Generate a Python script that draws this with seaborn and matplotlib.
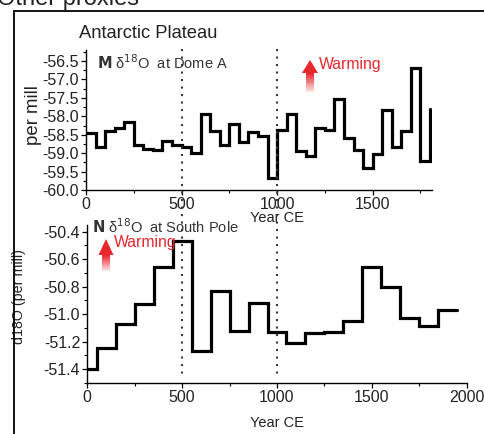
import numpy as np
import pandas as pd
import matplotlib
matplotlib.use("Agg")
import matplotlib.pyplot as plt
import seaborn as sns
from matplotlib.lines import Line2D
from matplotlib.patches import Polygon, Rectangle
from matplotlib.ticker import MultipleLocator

# ---------------- data ----------------
dome_years = list(range(0, 1801, 50))  # step edges (steps-post)
dome_values = [-58.46, -58.84, -58.39, -58.32, -58.16, -58.77, -58.88, -58.91,
               -58.66, -58.78, -58.84, -58.99, -57.95, -58.39, -58.77, -58.20,
               -58.70, -58.43, -58.53, -59.67, -58.38, -57.95, -58.93, -59.08,
               -58.31, -58.38, -57.52, -58.59, -58.91, -59.41, -59.02, -57.84,
               -58.82, -58.41, -56.70, -59.20, -57.81]

pole_years = [0] + list(range(50, 1851, 100)) + [1950]
pole_values = [-51.40, -51.245, -51.07, -50.93, -50.66, -50.47, -51.27, -50.83,
               -51.12, -50.92, -51.13, -51.21, -51.14, -51.13, -51.05, -50.66,
               -50.80, -51.03, -51.09, -50.97]
pole_values_plot = pole_values + [pole_values[-1]]

dome_yticks = [-60.0, -59.5, -59.0, -58.5, -58.0, -57.5, -57.0, -56.5]
pole_yticks = [-51.4, -51.2, -51.0, -50.8, -50.6, -50.4]

df_dome = pd.DataFrame({"year": dome_years, "d18O": dome_values})
df_pole = pd.DataFrame({"year": pole_years, "d18O": pole_values_plot})

# ---------------- style ----------------
sns.set_theme(style="ticks")
plt.rcParams["font.family"] = ["Liberation Sans", "DejaVu Sans"]
plt.rcParams["axes.unicode_minus"] = False

W, H = 484, 434
fig = plt.figure(figsize=(W / 100, H / 100), dpi=100)


def fx(x):
    return x / W


def fy(y):
    return 1 - y / H


RED = "#e8262d"
TXT = "#222222"

ax1 = fig.add_axes([fx(86), fy(190), (431.5 - 86) / W, (190 - 50) / H])
ax2 = fig.add_axes([fx(87.3), fy(382.7), 379.4 / W, (382.7 - 224.8) / H])

sns.lineplot(data=df_dome, x="year", y="d18O", ax=ax1, color="black",
             linewidth=2.3, drawstyle="steps-post", estimator=None,
             solid_joinstyle="miter")
sns.lineplot(data=df_pole, x="year", y="d18O", ax=ax2, color="black",
             linewidth=2.3, drawstyle="steps-post", estimator=None,
             solid_joinstyle="miter")

ax1.set_xlim(0, 1808)
ax1.set_ylim(-60.0, -56.2)
ax1.set_xticks([0, 500, 1000, 1500])
ax1.xaxis.set_minor_locator(MultipleLocator(250))
ax1.set_yticks(dome_yticks)
ax1.set_yticklabels([f"{v:.1f}" for v in dome_yticks])
ax1.yaxis.set_minor_locator(MultipleLocator(0.25))

ax2.set_xlim(0, 2000)
ax2.set_ylim(-51.5, -50.35)
ax2.set_xticks([0, 500, 1000, 1500, 2000])
ax2.xaxis.set_minor_locator(MultipleLocator(250))
ax2.set_yticks(pole_yticks)
ax2.set_yticklabels([f"{v:.1f}" for v in pole_yticks])
ax2.yaxis.set_minor_locator(MultipleLocator(0.1))

for ax in (ax1, ax2):
    sns.despine(ax=ax)
    ax.set_facecolor("none")
    for s in ("left", "bottom"):
        ax.spines[s].set_linewidth(1.0)
        ax.spines[s].set_color("black")
    ax.tick_params(which="major", direction="out", length=3.6, width=0.9,
                   labelsize=11.5, pad=1.5, colors="black", labelcolor=TXT)
    ax.tick_params(which="minor", direction="out", length=2.2, width=0.8,
                   colors="black")

# axis labels
ax1.set_xlabel("Year CE", fontsize=10.5, color=TXT)
ax1.xaxis.set_label_coords((277 - 86) / 345.5, (190 - 218) / 140)
ax1.xaxis.label.set_verticalalignment("center")
ax1.set_ylabel("per mill", fontsize=13.4, color=TXT)
ax1.yaxis.set_label_coords((34 - 86) / 345.5, (190 - 115) / 140)
ax1.yaxis.label.set_verticalalignment("center")

ax2.set_xlabel("Year CE", fontsize=10.5, color=TXT)
ax2.xaxis.set_label_coords((277 - 87.3) / 379.4, (382.7 - 423) / 157.9)
ax2.xaxis.label.set_verticalalignment("center")
ax2.set_ylabel("d18O (per mill)", fontsize=10.3, color=TXT)
ax2.yaxis.set_label_coords((19 - 87.3) / 379.4, (382.7 - 297) / 157.9)
ax2.yaxis.label.set_verticalalignment("center")

# dotted reference lines spanning both panels
for xp in (181.5, 277):
    fig.add_artist(Line2D([fx(xp), fx(xp)], [fy(49), fy(377)],
                          transform=fig.transFigure, color="#3a3a3a",
                          linewidth=1.5, linestyle=(0, (1, 2.6))))

# outer frame lines of the surrounding figure
fig.add_artist(Line2D([fx(13.5), fx(13.5)], [fy(11), fy(434)],
                      transform=fig.transFigure, color="black", linewidth=1.3))
fig.add_artist(Line2D([fx(13.5), fx(484)], [fy(11), fy(11)],
                      transform=fig.transFigure, color="black", linewidth=1.3))

# texts
fig.text(fx(-3), fy(5), "Other proxies", fontsize=17, color=TXT,
         ha="left", va="baseline")
fig.text(fx(79), fy(34), "Antarctic Plateau", fontsize=13.2, color=TXT,
         ha="left", va="center")
fig.text(fx(97), fy(63), r"$\mathbf{M}$ δ$^{18}$O  at Dome A",
         fontsize=10.5, color="#333333", ha="left", va="center")
fig.text(fx(92), fy(227), r"$\mathbf{N}$ δ$^{18}$O  at South Pole",
         fontsize=10.5, color="#333333", ha="left", va="center")
fig.text(fx(319), fy(64), "Warming", fontsize=11.3, color=RED,
         ha="left", va="center")
fig.text(fx(114), fy(243), "Warming", fontsize=11.3, color=RED,
         ha="left", va="center")


def warming_arrow(xc, y_apex, y_base, y_bottom, hw, sw):
    fig.add_artist(Polygon([[fx(xc - hw), fy(y_base)], [fx(xc + hw), fy(y_base)],
                            [fx(xc), fy(y_apex)]], closed=True,
                           transform=fig.transFigure, facecolor=RED,
                           edgecolor="none"))
    n = 24
    c0 = np.array(matplotlib.colors.to_rgb(RED))
    c1 = np.array(matplotlib.colors.to_rgb("#fbe3e4"))
    step = (y_bottom - y_base) / n
    for i in range(n):
        t = i / (n - 1)
        col = c0 * (1 - t) + c1 * t
        ytop = y_base + i * step
        fig.add_artist(Rectangle((fx(xc - sw), fy(ytop + step + 0.3)),
                                 2 * sw / W, (step + 0.3) / H,
                                 transform=fig.transFigure, facecolor=col,
                                 edgecolor="none"))


warming_arrow(310, 60, 73, 92, 8, 4)
warming_arrow(106, 239, 255, 271, 7.5, 4)

fig.savefig("out.png", dpi=100)
